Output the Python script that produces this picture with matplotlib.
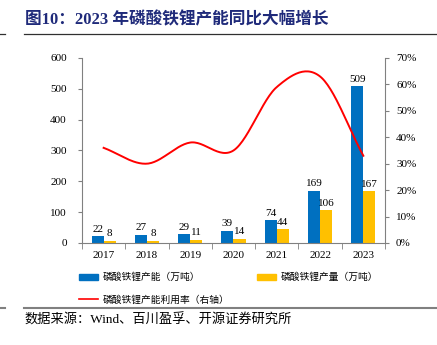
import numpy as np
import matplotlib
matplotlib.use("Agg")
import matplotlib.pyplot as plt
from matplotlib.lines import Line2D
from matplotlib.patches import Patch

plt.rcParams['font.family'] = ['Liberation Serif', 'Noto Sans CJK SC']

years = ['2017', '2018', '2019', '2020', '2021', '2022', '2023']
capacity = [22, 27, 29, 39, 74, 169, 509]
output = [8, 8, 11, 14, 44, 106, 167]
utilization = [36, 30, 38, 35, 59, 63, 33]

title = '图10：2023 年磷酸铁锂产能同比大幅增长'
source = '数据来源：Wind、百川盈孚、开源证券研究所'
cap_label = '磷酸铁锂产能（万吨）'
out_label = '磷酸铁锂产量（万吨）'
util_label = '磷酸铁锂产能利用率（右轴）'

blue = '#0070C0'
yellow = '#FFC000'
red = '#FF0000'
gray = '#808080'
navy = '#1F2A7A'


def catmull_rom(x, y, n=30):
    x = np.asarray(x, float)
    y = np.asarray(y, float)
    px = np.concatenate([[2 * x[0] - x[1]], x, [2 * x[-1] - x[-2]]])
    py = np.concatenate([[2 * y[0] - y[1]], y, [2 * y[-1] - y[-2]]])
    xs, ys = [], []
    t = np.linspace(0, 1, n)
    for i in range(1, len(px) - 2):
        p0, p1, p2, p3 = px[i - 1], px[i], px[i + 1], px[i + 2]
        q0, q1, q2, q3 = py[i - 1], py[i], py[i + 1], py[i + 2]
        b1x, b1y = p1 + (p2 - p0) / 6, q1 + (q2 - q0) / 6
        b2x, b2y = p2 - (p3 - p1) / 6, q2 - (q3 - q1) / 6
        bx = (1 - t) ** 3 * p1 + 3 * (1 - t) ** 2 * t * b1x + 3 * (1 - t) * t ** 2 * b2x + t ** 3 * p2
        by = (1 - t) ** 3 * q1 + 3 * (1 - t) ** 2 * t * b1y + 3 * (1 - t) * t ** 2 * b2y + t ** 3 * q2
        xs.append(bx)
        ys.append(by)
    return np.concatenate(xs), np.concatenate(ys)


fig = plt.figure(figsize=(4.37, 3.45), dpi=100)
ax = fig.add_axes([0.1876, 0.2957, 0.6934, 0.5363])
x = np.arange(len(years))
w = 0.28

ax.bar(x - w / 2, capacity, w, color=blue, zorder=2)
ax.bar(x + w / 2, output, w, color=yellow, zorder=2)
for xi, c, o in zip(x, capacity, output):
    ax.text(xi - w / 2, c + 8, str(c), ha='center', va='bottom', fontsize=8)
    ax.text(xi + w / 2, o + 8, str(o), ha='center', va='bottom', fontsize=8)

ax.set_ylim(0, 600)
ax.set_yticks(range(0, 601, 100))
ax.set_xlim(-0.5, len(years) - 0.5)
ax.set_xticks(x)
ax.set_xticklabels(years)
ax.set_xticks(np.arange(-0.5, len(years)), minor=True)
ax.tick_params(axis='x', which='major', length=0, pad=6, labelsize=8)
ax.tick_params(axis='x', which='minor', length=4, color=gray, direction='out')
ax.tick_params(axis='y', length=3, color=gray, labelsize=8, pad=8)
for s in ['top', 'right']:
    ax.spines[s].set_visible(False)
for s in ['left', 'bottom']:
    ax.spines[s].set_color(gray)
    ax.spines[s].set_linewidth(0.8)

ax2 = ax.twinx()
sx, sy = catmull_rom(x, utilization)
ax2.plot(sx, sy, color=red, lw=1.4, zorder=3)
ax2.set_ylim(0, 70)
ax2.set_yticks(range(0, 71, 10))
ax2.set_yticklabels([f'{v}%' for v in range(0, 71, 10)])
ax2.tick_params(axis='y', length=3, color=gray, labelsize=8, pad=5)
for s in ['top', 'left', 'bottom']:
    ax2.spines[s].set_visible(False)
ax2.spines['right'].set_color(gray)
ax2.spines['right'].set_linewidth(0.8)

fig.legend(handles=[Patch(color=blue, label=cap_label), Patch(color=yellow, label=out_label)],
           loc='upper left', bbox_to_anchor=(0.16, 0.235), ncol=2, frameon=False,
           fontsize=7, handlelength=2.0, handleheight=0.55, columnspacing=5.8,
           handletextpad=0.5)
fig.legend(handles=[Line2D([0], [0], color=red, lw=1.2, label=util_label)],
           loc='upper left', bbox_to_anchor=(0.16, 0.17), frameon=False,
           fontsize=7, handlelength=2.0, handletextpad=0.5)

fig.text(0.057, 0.942, title, fontsize=12, fontweight='bold', color=navy, va='center')
fig.add_artist(Line2D([0.055, 1.0], [0.902, 0.902], color='#303030', lw=0.9))
fig.add_artist(Line2D([0.0, 0.011], [0.902, 0.902], color='#303030', lw=0.9))
fig.add_artist(Line2D([0.055, 1.0], [0.107, 0.107], color=gray, lw=1.5))
fig.add_artist(Line2D([0.0, 0.011], [0.107, 0.107], color=gray, lw=1.5))
fig.text(0.057, 0.072, source, fontsize=9.5, va='center')

fig.savefig('out.png', dpi=100)
